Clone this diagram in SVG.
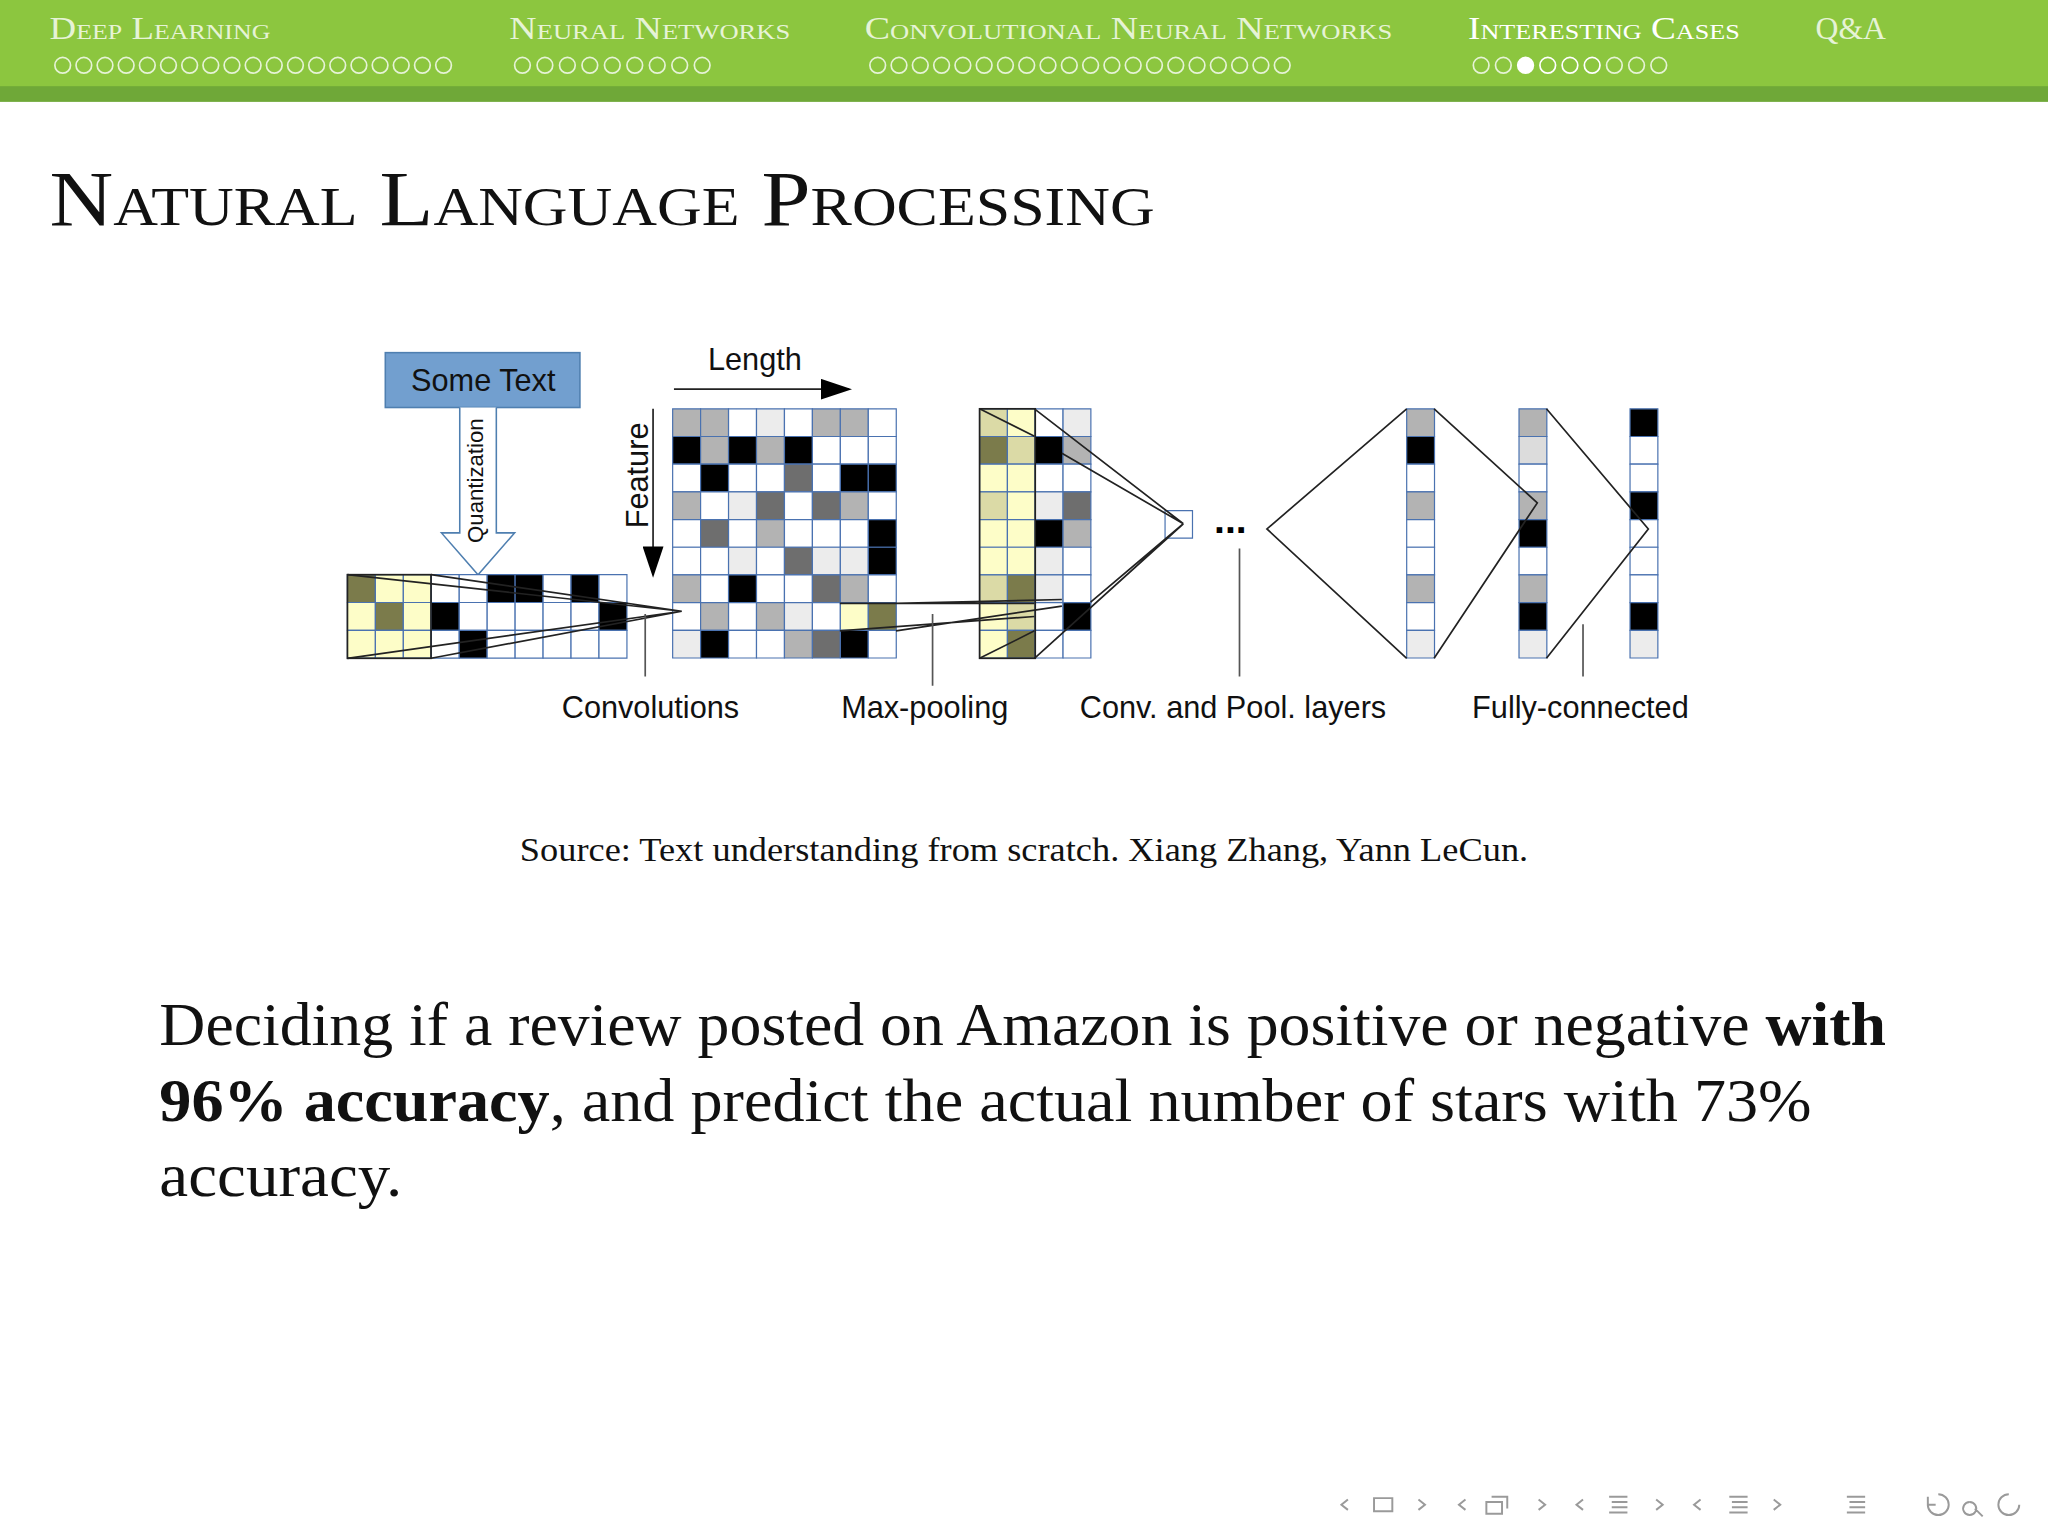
<svg xmlns="http://www.w3.org/2000/svg" width="2048" height="1536" viewBox="0 0 2048 1536">
<style>
.c rect{stroke:#4a72b0;stroke-width:1.2;vector-effect:non-scaling-stroke}
.w{fill:#fff}.l{fill:#ececec}.g{fill:#b3b3b3}.d{fill:#6e6e6e}.b{fill:#000}.y{fill:#fdfdc8}.t{fill:#dbdaa6}.o{fill:#7b7b4b}.m{fill:#dcdcdc}
.ln{stroke:#222;stroke-width:1.3;fill:none}
.lab{font-family:"Liberation Sans",Arial,sans-serif;font-size:23.5px;fill:#111;text-anchor:middle}
.hd{font-family:"Liberation Serif",serif;font-variant:small-caps;font-size:24px;fill:#e6f3d6}
.dot{fill:none;stroke:#e6f3d6;stroke-width:1.3}
.nav{fill:none;stroke:#9a9a9a;stroke-width:1.5}
</style>
<defs><marker id="ah" viewBox="0 0 10 10" refX="9" refY="5" markerWidth="24" markerHeight="16" markerUnits="userSpaceOnUse" orient="auto" preserveAspectRatio="none"><path d="M0,0 L10,5 L0,10 z" fill="#000"/></marker></defs>
<rect width="2048" height="1536" fill="#fff"/>
<g transform="scale(1.30612)">
<g id="header">
<rect x="0" y="0" width="1568" height="68" fill="#8cc63f"/>
<rect x="0" y="66" width="1568" height="12" fill="#6fa838"/>
<text class="hd" x="38" y="30" textLength="169" lengthAdjust="spacingAndGlyphs">Deep Learning</text>
<text class="hd" x="390" y="30" textLength="215" lengthAdjust="spacingAndGlyphs">Neural Networks</text>
<text class="hd" x="662" y="30" textLength="404" lengthAdjust="spacingAndGlyphs">Convolutional Neural Networks</text>
<text class="hd" x="1124" y="30" style="fill:#fff" textLength="208" lengthAdjust="spacingAndGlyphs">Interesting Cases</text>
<text class="hd" x="1390" y="30" textLength="54" lengthAdjust="spacingAndGlyphs">Q&amp;A</text>
<g class="dot">
<circle cx="48" cy="50" r="6"/><circle cx="64.2" cy="50" r="6"/><circle cx="80.4" cy="50" r="6"/><circle cx="96.6" cy="50" r="6"/><circle cx="112.8" cy="50" r="6"/><circle cx="129" cy="50" r="6"/><circle cx="145.2" cy="50" r="6"/><circle cx="161.4" cy="50" r="6"/><circle cx="177.6" cy="50" r="6"/><circle cx="193.8" cy="50" r="6"/><circle cx="210" cy="50" r="6"/><circle cx="226.2" cy="50" r="6"/><circle cx="242.4" cy="50" r="6"/><circle cx="258.6" cy="50" r="6"/><circle cx="274.8" cy="50" r="6"/><circle cx="291" cy="50" r="6"/><circle cx="307.2" cy="50" r="6"/><circle cx="323.4" cy="50" r="6"/><circle cx="339.6" cy="50" r="6"/>
<circle cx="400" cy="50" r="6"/><circle cx="417.2" cy="50" r="6"/><circle cx="434.4" cy="50" r="6"/><circle cx="451.6" cy="50" r="6"/><circle cx="468.8" cy="50" r="6"/><circle cx="486" cy="50" r="6"/><circle cx="503.2" cy="50" r="6"/><circle cx="520.4" cy="50" r="6"/><circle cx="537.6" cy="50" r="6"/>
<circle cx="672" cy="50" r="6"/><circle cx="688.3" cy="50" r="6"/><circle cx="704.6" cy="50" r="6"/><circle cx="720.9" cy="50" r="6"/><circle cx="737.2" cy="50" r="6"/><circle cx="753.5" cy="50" r="6"/><circle cx="769.8" cy="50" r="6"/><circle cx="786.1" cy="50" r="6"/><circle cx="802.4" cy="50" r="6"/><circle cx="818.7" cy="50" r="6"/><circle cx="835" cy="50" r="6"/><circle cx="851.3" cy="50" r="6"/><circle cx="867.6" cy="50" r="6"/><circle cx="883.9" cy="50" r="6"/><circle cx="900.2" cy="50" r="6"/><circle cx="916.5" cy="50" r="6"/><circle cx="932.8" cy="50" r="6"/><circle cx="949.1" cy="50" r="6"/><circle cx="965.4" cy="50" r="6"/><circle cx="981.7" cy="50" r="6"/>
<circle cx="1134" cy="50" r="6"/><circle cx="1151" cy="50" r="6"/><circle cx="1168" cy="50" r="6" style="fill:#fff;stroke:#fff"/><circle cx="1185" cy="50" r="6" style="stroke:#fff"/><circle cx="1202" cy="50" r="6" style="stroke:#fff"/><circle cx="1219" cy="50" r="6" style="stroke:#fff"/><circle cx="1236" cy="50" r="6"/><circle cx="1253" cy="50" r="6"/><circle cx="1270" cy="50" r="6"/>
</g>
</g>
<text x="38" y="172" font-family="Liberation Serif,serif" font-variant="small-caps" font-size="60" fill="#111" textLength="846" lengthAdjust="spacingAndGlyphs">Natural Language Processing</text>

<g id="some-text">
<rect x="295" y="270" width="149" height="42" fill="#729fcf" stroke="#4f7fb0" stroke-width="1.2"/>
<text class="lab" x="370" y="299">Some Text</text>
</g>
<g id="quantization">
<path d="M352,312 V408 H338 L366,440 L394,408 H380 V312" fill="#fff" stroke="#4f7fb0" stroke-width="1.2"/>
<text class="lab" style="font-size:17px" transform="translate(370,368) rotate(-90)">Quantization</text>
</g>
<g id="input-grid" class="c" transform="translate(266,440) scale(21.4,21.3)">
<rect class="o" x="0" y="0" width="1" height="1"/><rect class="y" x="1" y="0" width="1" height="1"/><rect class="y" x="2" y="0" width="1" height="1"/><rect class="w" x="3" y="0" width="1" height="1"/><rect class="w" x="4" y="0" width="1" height="1"/><rect class="b" x="5" y="0" width="1" height="1"/><rect class="b" x="6" y="0" width="1" height="1"/><rect class="w" x="7" y="0" width="1" height="1"/><rect class="b" x="8" y="0" width="1" height="1"/><rect class="w" x="9" y="0" width="1" height="1"/>
<rect class="y" x="0" y="1" width="1" height="1"/><rect class="o" x="1" y="1" width="1" height="1"/><rect class="y" x="2" y="1" width="1" height="1"/><rect class="b" x="3" y="1" width="1" height="1"/><rect class="w" x="4" y="1" width="1" height="1"/><rect class="w" x="5" y="1" width="1" height="1"/><rect class="w" x="6" y="1" width="1" height="1"/><rect class="w" x="7" y="1" width="1" height="1"/><rect class="w" x="8" y="1" width="1" height="1"/><rect class="b" x="9" y="1" width="1" height="1"/>
<rect class="y" x="0" y="2" width="1" height="1"/><rect class="y" x="1" y="2" width="1" height="1"/><rect class="y" x="2" y="2" width="1" height="1"/><rect class="w" x="3" y="2" width="1" height="1"/><rect class="b" x="4" y="2" width="1" height="1"/><rect class="w" x="5" y="2" width="1" height="1"/><rect class="w" x="6" y="2" width="1" height="1"/><rect class="w" x="7" y="2" width="1" height="1"/><rect class="w" x="8" y="2" width="1" height="1"/><rect class="w" x="9" y="2" width="1" height="1"/>
</g>
<g id="feature-map" class="c" transform="translate(515,313) scale(21.4,21.2)">
<rect class="g" x="0" y="0" width="1" height="1"/><rect class="g" x="1" y="0" width="1" height="1"/><rect class="w" x="2" y="0" width="1" height="1"/><rect class="l" x="3" y="0" width="1" height="1"/><rect class="w" x="4" y="0" width="1" height="1"/><rect class="g" x="5" y="0" width="1" height="1"/><rect class="g" x="6" y="0" width="1" height="1"/><rect class="w" x="7" y="0" width="1" height="1"/>
<rect class="b" x="0" y="1" width="1" height="1"/><rect class="g" x="1" y="1" width="1" height="1"/><rect class="b" x="2" y="1" width="1" height="1"/><rect class="g" x="3" y="1" width="1" height="1"/><rect class="b" x="4" y="1" width="1" height="1"/><rect class="w" x="5" y="1" width="1" height="1"/><rect class="w" x="6" y="1" width="1" height="1"/><rect class="w" x="7" y="1" width="1" height="1"/>
<rect class="w" x="0" y="2" width="1" height="1"/><rect class="b" x="1" y="2" width="1" height="1"/><rect class="w" x="2" y="2" width="1" height="1"/><rect class="w" x="3" y="2" width="1" height="1"/><rect class="d" x="4" y="2" width="1" height="1"/><rect class="w" x="5" y="2" width="1" height="1"/><rect class="b" x="6" y="2" width="1" height="1"/><rect class="b" x="7" y="2" width="1" height="1"/>
<rect class="g" x="0" y="3" width="1" height="1"/><rect class="w" x="1" y="3" width="1" height="1"/><rect class="l" x="2" y="3" width="1" height="1"/><rect class="d" x="3" y="3" width="1" height="1"/><rect class="w" x="4" y="3" width="1" height="1"/><rect class="d" x="5" y="3" width="1" height="1"/><rect class="g" x="6" y="3" width="1" height="1"/><rect class="w" x="7" y="3" width="1" height="1"/>
<rect class="w" x="0" y="4" width="1" height="1"/><rect class="d" x="1" y="4" width="1" height="1"/><rect class="w" x="2" y="4" width="1" height="1"/><rect class="g" x="3" y="4" width="1" height="1"/><rect class="w" x="4" y="4" width="1" height="1"/><rect class="w" x="5" y="4" width="1" height="1"/><rect class="w" x="6" y="4" width="1" height="1"/><rect class="b" x="7" y="4" width="1" height="1"/>
<rect class="w" x="0" y="5" width="1" height="1"/><rect class="w" x="1" y="5" width="1" height="1"/><rect class="l" x="2" y="5" width="1" height="1"/><rect class="w" x="3" y="5" width="1" height="1"/><rect class="d" x="4" y="5" width="1" height="1"/><rect class="l" x="5" y="5" width="1" height="1"/><rect class="l" x="6" y="5" width="1" height="1"/><rect class="b" x="7" y="5" width="1" height="1"/>
<rect class="g" x="0" y="6" width="1" height="1"/><rect class="w" x="1" y="6" width="1" height="1"/><rect class="b" x="2" y="6" width="1" height="1"/><rect class="w" x="3" y="6" width="1" height="1"/><rect class="w" x="4" y="6" width="1" height="1"/><rect class="d" x="5" y="6" width="1" height="1"/><rect class="g" x="6" y="6" width="1" height="1"/><rect class="w" x="7" y="6" width="1" height="1"/>
<rect class="w" x="0" y="7" width="1" height="1"/><rect class="g" x="1" y="7" width="1" height="1"/><rect class="w" x="2" y="7" width="1" height="1"/><rect class="g" x="3" y="7" width="1" height="1"/><rect class="l" x="4" y="7" width="1" height="1"/><rect class="w" x="5" y="7" width="1" height="1"/><rect class="y" x="6" y="7" width="1" height="1"/><rect class="o" x="7" y="7" width="1" height="1"/>
<rect class="l" x="0" y="8" width="1" height="1"/><rect class="b" x="1" y="8" width="1" height="1"/><rect class="w" x="2" y="8" width="1" height="1"/><rect class="w" x="3" y="8" width="1" height="1"/><rect class="g" x="4" y="8" width="1" height="1"/><rect class="d" x="5" y="8" width="1" height="1"/><rect class="b" x="6" y="8" width="1" height="1"/><rect class="w" x="7" y="8" width="1" height="1"/>
</g>
<g id="pooled-map" class="c" transform="translate(750,313) scale(21.3,21.2)">
<rect class="t" x="0" y="0" width="1" height="1"/><rect class="y" x="1" y="0" width="1" height="1"/><rect class="w" x="2" y="0" width="1" height="1"/><rect class="l" x="3" y="0" width="1" height="1"/>
<rect class="o" x="0" y="1" width="1" height="1"/><rect class="t" x="1" y="1" width="1" height="1"/><rect class="b" x="2" y="1" width="1" height="1"/><rect class="g" x="3" y="1" width="1" height="1"/>
<rect class="y" x="0" y="2" width="1" height="1"/><rect class="y" x="1" y="2" width="1" height="1"/><rect class="w" x="2" y="2" width="1" height="1"/><rect class="w" x="3" y="2" width="1" height="1"/>
<rect class="t" x="0" y="3" width="1" height="1"/><rect class="y" x="1" y="3" width="1" height="1"/><rect class="l" x="2" y="3" width="1" height="1"/><rect class="d" x="3" y="3" width="1" height="1"/>
<rect class="y" x="0" y="4" width="1" height="1"/><rect class="y" x="1" y="4" width="1" height="1"/><rect class="b" x="2" y="4" width="1" height="1"/><rect class="g" x="3" y="4" width="1" height="1"/>
<rect class="y" x="0" y="5" width="1" height="1"/><rect class="y" x="1" y="5" width="1" height="1"/><rect class="l" x="2" y="5" width="1" height="1"/><rect class="w" x="3" y="5" width="1" height="1"/>
<rect class="t" x="0" y="6" width="1" height="1"/><rect class="o" x="1" y="6" width="1" height="1"/><rect class="l" x="2" y="6" width="1" height="1"/><rect class="w" x="3" y="6" width="1" height="1"/>
<rect class="y" x="0" y="7" width="1" height="1"/><rect class="t" x="1" y="7" width="1" height="1"/><rect class="w" x="2" y="7" width="1" height="1"/><rect class="b" x="3" y="7" width="1" height="1"/>
<rect class="y" x="0" y="8" width="1" height="1"/><rect class="o" x="1" y="8" width="1" height="1"/><rect class="w" x="2" y="8" width="1" height="1"/><rect class="w" x="3" y="8" width="1" height="1"/>
</g>
<g id="small-unit" class="c"><rect class="w" x="892" y="391" width="21" height="21"/></g>
<g id="fc1" class="c" transform="translate(1077,313) scale(21.3,21.2)">
<rect class="g" x="0" y="0" width="1" height="1"/><rect class="b" x="0" y="1" width="1" height="1"/><rect class="w" x="0" y="2" width="1" height="1"/><rect class="g" x="0" y="3" width="1" height="1"/><rect class="w" x="0" y="4" width="1" height="1"/><rect class="w" x="0" y="5" width="1" height="1"/><rect class="g" x="0" y="6" width="1" height="1"/><rect class="w" x="0" y="7" width="1" height="1"/><rect class="l" x="0" y="8" width="1" height="1"/>
</g>
<g id="fc2" class="c" transform="translate(1163,313) scale(21.3,21.2)">
<rect class="g" x="0" y="0" width="1" height="1"/><rect class="m" x="0" y="1" width="1" height="1"/><rect class="w" x="0" y="2" width="1" height="1"/><rect class="g" x="0" y="3" width="1" height="1"/><rect class="b" x="0" y="4" width="1" height="1"/><rect class="w" x="0" y="5" width="1" height="1"/><rect class="g" x="0" y="6" width="1" height="1"/><rect class="b" x="0" y="7" width="1" height="1"/><rect class="l" x="0" y="8" width="1" height="1"/>
</g>
<g id="fc3" class="c" transform="translate(1248,313) scale(21.3,21.2)">
<rect class="b" x="0" y="0" width="1" height="1"/><rect class="w" x="0" y="1" width="1" height="1"/><rect class="w" x="0" y="2" width="1" height="1"/><rect class="b" x="0" y="3" width="1" height="1"/><rect class="w" x="0" y="4" width="1" height="1"/><rect class="w" x="0" y="5" width="1" height="1"/><rect class="w" x="0" y="6" width="1" height="1"/><rect class="b" x="0" y="7" width="1" height="1"/><rect class="l" x="0" y="8" width="1" height="1"/>
</g>

<g id="connectors">
<rect class="ln" x="266" y="440" width="64" height="64"/>
<rect class="ln" x="750" y="313" width="42.6" height="191"/>
<path class="ln" d="M266,440 L522,468 M330,440 L522,468 M266,504 L522,468 M330,504 L522,468"/>
<path class="ln" d="M643,462 L792,462 M643,483 L792,472 M686,462 L813,459 M686,483 L813,464"/>
<path class="ln" d="M750,313 L792,334 M750,504 L792,483"/>
<path class="ln" d="M792,313 L906,401 M813,347 L906,401 M792,504 L906,401 M835,461 L906,401"/>
<path class="ln" d="M1077,313 L970,405 L1077,504 M1098,313 L1177,385 L1098,504 M1184,313 L1262,405 L1184,504"/>
<path class="ln" d="M516,298 H650" marker-end="url(#ah)"/>
<path class="ln" d="M500,313 V440" marker-end="url(#ah)"/>
<path class="ln" style="stroke:#555" d="M494,470 V518 M714,470 V525 M949,420 V518 M1212,478 V518"/>
</g>
<text class="lab" x="578" y="283">Length</text>
<text class="lab" transform="translate(496,364) rotate(-90)">Feature</text>
<text x="942" y="408" font-family="Liberation Sans,sans-serif" font-size="30" font-weight="bold" text-anchor="middle">...</text>
<text class="lab" x="498" y="550">Convolutions</text>
<text class="lab" x="708" y="550">Max-pooling</text>
<text class="lab" x="944" y="550">Conv. and Pool. layers</text>
<text class="lab" x="1210" y="550">Fully-connected</text>

<text x="784" y="659" font-family="Liberation Serif,serif" font-size="25" fill="#111" text-anchor="middle" textLength="772" lengthAdjust="spacingAndGlyphs">Source: Text understanding from scratch. Xiang Zhang, Yann LeCun.</text>

<g font-family="Liberation Serif,serif" font-size="47" fill="#111">
<text x="122" y="800" textLength="1322" lengthAdjust="spacingAndGlyphs">Deciding if a review posted on Amazon is positive or negative <tspan font-weight="bold">with</tspan></text>
<text x="122" y="858" textLength="1265" lengthAdjust="spacingAndGlyphs"><tspan font-weight="bold">96% accuracy</tspan>, and predict the actual number of stars with 73%</text>
<text x="122" y="916" textLength="186" lengthAdjust="spacingAndGlyphs">accuracy.</text>
</g>

<g id="nav" class="nav">
<path d="M1032,1148 l-5,4 l5,4 M1052,1147 h14 v10 h-14 z M1086,1148 l5,4 l-5,4"/>
<path d="M1122,1148 l-5,4 l5,4 M1138,1150 h12 v9 h-12 z M1142,1146 h12 v9 M1178,1148 l5,4 l-5,4"/>
<path d="M1212,1148 l-5,4 l5,4 M1232,1146 h14 M1234,1150 h12 M1234,1154 h12 M1232,1158 h14 M1268,1148 l5,4 l-5,4"/>
<path d="M1302,1148 l-5,4 l5,4 M1324,1146 h14 M1326,1150 h12 M1326,1154 h12 M1324,1158 h14 M1358,1148 l5,4 l-5,4"/>
<path d="M1414,1146 h14 M1416,1150 h12 M1416,1154 h12 M1414,1158 h14"/>
<path d="M1476,1152 a8,8 0 1 0 8,-8 M1476,1146 v6 h6 M1508,1150 a5,5 0 1 0 0.1,0 M1512,1155 l6,6 M1546,1152 a8,8 0 1 1 -8,-8"/>
</g>
</g>
</svg>
